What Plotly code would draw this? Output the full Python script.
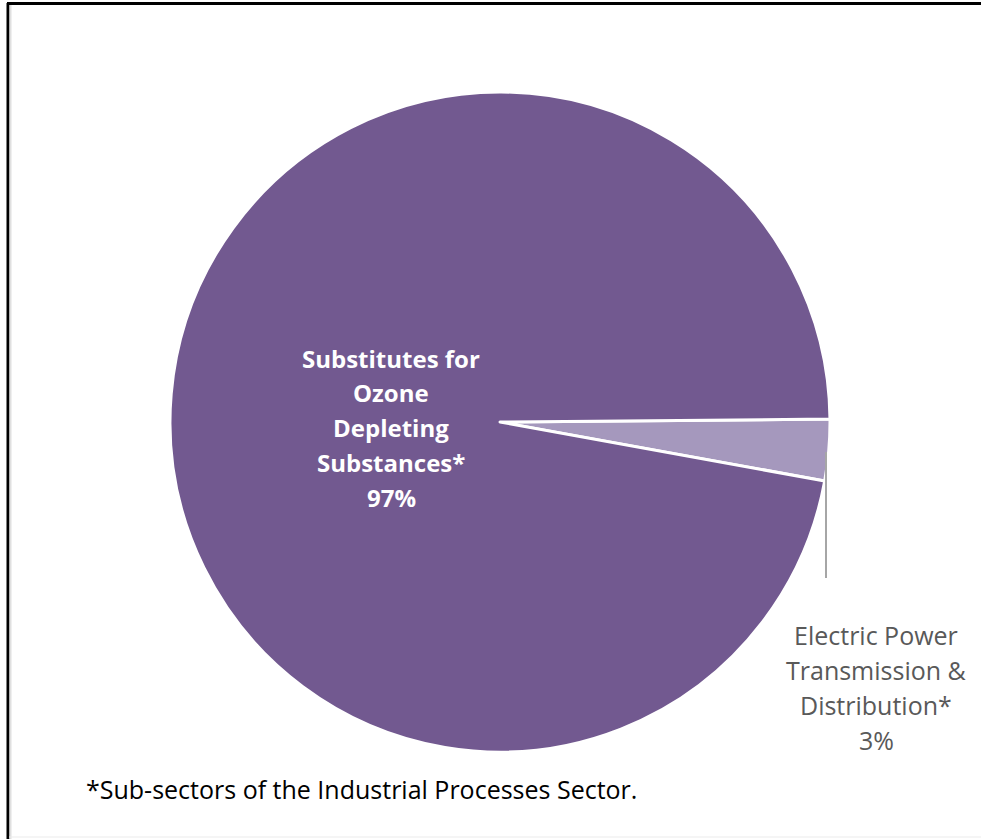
import plotly.graph_objects as go

# Sub-sector shares of emissions
categories = ["Electric Power\nTransmission &\nDistribution*", "Substitutes for\nOzone\nDepleting\nSubstances*"]
values = [3, 97]
colors = ["#A598BD", "#725990"]
footnote = "*Sub-sectors of the Industrial Processes Sector."

W, H = 981, 839


def px(x):
    return x / W


def py(y):
    return 1 - y / H


# pie geometry in pixels
cx, cy, r = 500, 422, 330

fig = go.Figure(
    go.Pie(
        labels=[c.replace("\n", " ") for c in categories],
        values=values,
        sort=False,
        direction="clockwise",
        rotation=89.5,
        marker=dict(colors=colors, line=dict(color="white", width=3)),
        textinfo="none",
        hoverinfo="label+percent",
        showlegend=False,
        domain=dict(x=[px(cx - r), px(cx + r)], y=[py(cy + r), py(cy - r)]),
    )
)

total = sum(values)
pct = [f"{round(v / total * 100)}%" for v in values]

FONT = "Open Sans"

annotations = []
# label inside the large slice
big_lines = categories[1].split("\n") + [pct[1]]
for i, line in enumerate(big_lines):
    annotations.append(dict(
        x=px(391), y=py(358 + i * 34.8), xref="paper", yref="paper",
        text=f"<b>{line}</b>", showarrow=False, xanchor="center", yanchor="middle",
        font=dict(family=FONT, size=24, color="white"),
    ))
# label outside the small slice
small_lines = categories[0].split("\n") + [pct[0]]
for i, line in enumerate(small_lines):
    annotations.append(dict(
        x=px(876), y=py(635 + i * 35), xref="paper", yref="paper",
        text=line, showarrow=False, xanchor="center", yanchor="middle",
        font=dict(family=FONT, size=25, color="#595959"),
    ))
# footnote
annotations.append(dict(
    x=px(84), y=py(789), xref="paper", yref="paper", text=footnote,
    showarrow=False, xanchor="left", yanchor="middle",
    font=dict(family=FONT, size=25, color="#000000"),
))

shapes = [
    # leader line to the small slice label
    dict(type="line", xref="paper", yref="paper", x0=px(826), x1=px(826), y0=py(452), y1=py(578),
         line=dict(color="#A6A6A6", width=2)),
    # chart frame
    dict(type="line", xref="paper", yref="paper", x0=px(8), x1=px(8), y0=py(3), y1=0,
         line=dict(color="#000000", width=3)),
    dict(type="line", xref="paper", yref="paper", x0=px(7), x1=1, y0=py(3.5), y1=py(3.5),
         line=dict(color="#000000", width=3)),
    dict(type="line", xref="paper", yref="paper", x0=px(10.5), x1=px(10.5), y0=py(5), y1=0,
         line=dict(color="#E0E0E0", width=2)),
    dict(type="line", xref="paper", yref="paper", x0=px(9), x1=1, y0=py(837), y1=py(837),
         line=dict(color="#EBEBEB", width=1)),
]

fig.update_layout(
    width=W, height=H,
    margin=dict(l=0, r=0, t=0, b=0),
    paper_bgcolor="white", plot_bgcolor="white",
    annotations=annotations, shapes=shapes,
)

fig.write_html("out.html", config={"displayModeBar": False})
